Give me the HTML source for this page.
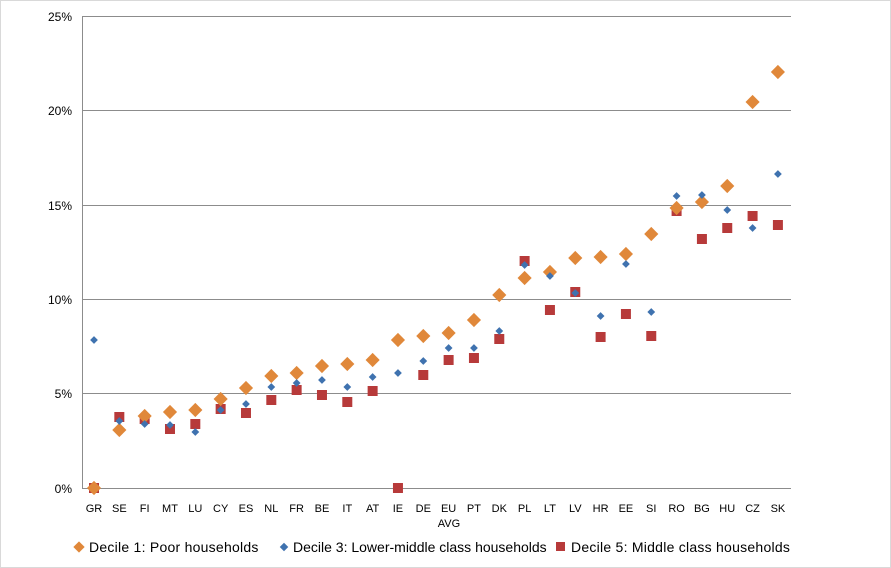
<!DOCTYPE html>
<html><head><meta charset="utf-8"><style>
body{margin:0;background:#fff;}
svg{display:block;font-family:"Liberation Sans",sans-serif;}
</style></head><body>
<svg width="891" height="568" viewBox="0 0 891 568">
<rect x="0.5" y="0.5" width="890" height="567" fill="#fff" stroke="#d9d9d9"/>
<g stroke="#8c8c8c" stroke-width="1">
<line x1="82" y1="16.5" x2="791" y2="16.5"/>
<line x1="82" y1="110.5" x2="791" y2="110.5"/>
<line x1="82" y1="205.5" x2="791" y2="205.5"/>
<line x1="82" y1="299.5" x2="791" y2="299.5"/>
<line x1="82" y1="393.5" x2="791" y2="393.5"/>
<line x1="82" y1="488.5" x2="791" y2="488.5"/>
<line x1="82.5" y1="16" x2="82.5" y2="488"/>
</g>
<g font-size="12" fill="#000" text-anchor="end">
<text x="72" y="21">25%</text><text x="72" y="115">20%</text><text x="72" y="210">15%</text>
<text x="72" y="304">10%</text><text x="72" y="398">5%</text><text x="72" y="493">0%</text>
</g>
<g id="pts"></g>
<g font-size="11" text-anchor="middle" id="lbl"></g>
<text x="449" y="527" font-size="11" text-anchor="middle">AVG</text>
<g font-size="14">
<rect x="75" y="543" width="8" height="8" fill="#e0883a" transform="rotate(45 79 547)"/>
<text x="89" y="552" letter-spacing="0.25">Decile 1: Poor households</text>
<rect x="281" y="544" width="6" height="6" fill="#3f72af" transform="rotate(45 284 547)"/>
<text x="293" y="552">Decile 3: Lower-middle class households</text>
<rect x="556" y="542" width="9" height="9" fill="#b73a3a"/>
<text x="571" y="552" letter-spacing="0.25">Decile 5: Middle class households</text>
</g>
</svg>
<script>
var c="GR SE FI MT LU CY ES NL FR BE IT AT IE DE EU PT DK PL LT LV HR EE SI RO BG HU CZ SK".split(" ");
var d1=[488,430,416,412,410,399,388,376,373,366,364,360,340,336,333,320,295,278,272,258,257,254,234,208,202,186,102,72];
var d3=[340,421,424,425,432,410,404,387,383,380,387,377,373,361,348,348,331,265,276,293,316,264,312,196,195,210,228,174];
var d5=[488,417,419,429,424,409,413,400,390,395,402,391,488,375,360,358,339,261,310,292,337,314,336,211,239,228,216,225];
var ns="http://www.w3.org/2000/svg",p=document.getElementById("pts"),l=document.getElementById("lbl");
function r(x,y,s,f,rot){var e=document.createElementNS(ns,"rect");e.setAttribute("x",x-s/2);e.setAttribute("y",y-s/2);e.setAttribute("width",s);e.setAttribute("height",s);e.setAttribute("fill",f);if(rot)e.setAttribute("transform","rotate(45 "+x+" "+y+")");p.appendChild(e);}
for(var i=0;i<28;i++){var x=94+i*25.33;
r(x,d5[i],10,"#b73a3a",0);
r(x,d1[i],10,"#e0883a",1);
r(x,d3[i],5.5,"#3f72af",1);
var t=document.createElementNS(ns,"text");t.setAttribute("x",x);t.setAttribute("y",512);t.textContent=c[i];l.appendChild(t);}
</script>
</body></html>
